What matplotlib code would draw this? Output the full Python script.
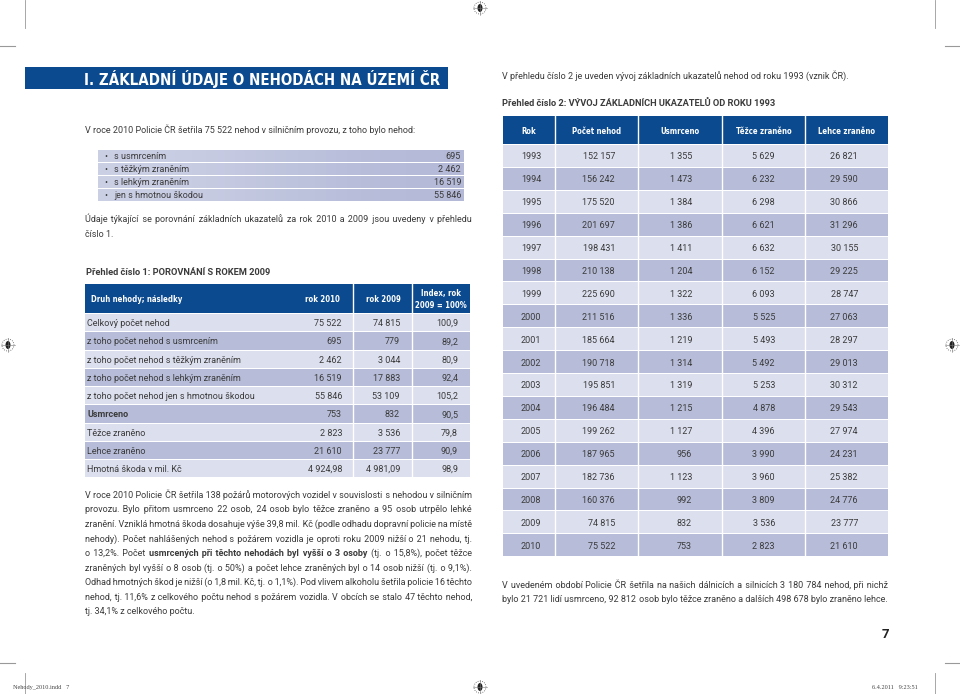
import matplotlib.pyplot as plt
from matplotlib.colors import LinearSegmentedColormap
from matplotlib.patches import Rectangle, Circle, Ellipse

# --- page content ------------------------------------------------------------
title = "I. ZÁKLADNÍ ÚDAJE O NEHODÁCH NA ÚZEMÍ ČR"
intro = "V roce 2010 Policie ČR šetřila 75 522 nehod v silničním provozu, z toho bylo nehod:"

bullet_labels = ["s usmrcením", "s těžkým zraněním", "s lehkým zraněním", "jen s hmotnou škodou"]
bullet_values = [695, 2462, 16519, 55846]

note1 = ["Údaje týkající se porovnání základních ukazatelů za rok 2010 a 2009 jsou uvedeny v přehledu",
         "číslo 1."]

t1_title = "Přehled číslo 1: POROVNÁNÍ S ROKEM 2009"
t1_header = ["Druh nehody; následky", "rok 2010", "rok 2009", "Index, rok", "2009 = 100%"]
t1_labels = ["Celkový počet nehod", "z toho počet nehod s usmrcením",
             "z toho počet nehod s těžkým zraněním", "z toho počet nehod s lehkým zraněním",
             "z toho počet nehod jen s hmotnou škodou", "Usmrceno", "Těžce zraněno",
             "Lehce zraněno", "Hmotná škoda v mil. Kč"]
t1_2010 = [75522, 695, 2462, 16519, 55846, 753, 2823, 21610, 4924.98]
t1_2009 = [74815, 779, 3044, 17883, 53109, 832, 3536, 23777, 4981.09]
t1_index = [100.9, 89.2, 80.9, 92.4, 105.2, 90.5, 79.8, 90.9, 98.9]

fire_par = [
    [("V roce 2010 Policie ČR šetřila 138 požárů motorových vozidel v souvislosti s nehodou v silničním", "normal")],
    [("provozu. Bylo přitom usmrceno 22 osob, 24 osob bylo těžce zraněno a 95 osob utrpělo lehké", "normal")],
    [("zranění. Vzniklá hmotná škoda dosahuje výše 39,8 mil. Kč (podle odhadu dopravní policie na místě", "normal")],
    [("nehody). Počet nahlášených nehod s požárem vozidla je oproti roku 2009 nižší o 21 nehodu, tj.", "normal")],
    [("o 13,2%. Počet", "normal"), ("usmrcených při těchto nehodách byl vyšší o 3 osoby", "bold"),
     ("(tj. o 15,8%), počet těžce", "normal")],
    [("zraněných byl vyšší o 8 osob (tj. o 50%) a počet lehce zraněných byl o 14 osob nižší (tj. o 9,1%).", "normal")],
    [("Odhad hmotných škod je nižší (o 1,8 mil. Kč, tj. o 1,1%). Pod vlivem alkoholu šetřila policie 16 těchto", "normal")],
    [("nehod, tj. 11,6% z celkového počtu nehod s požárem vozidla. V obcích se stalo 47 těchto nehod,", "normal")],
    [("tj. 34,1% z celkového počtu.", "normal")],
]

right_intro = "V přehledu číslo 2 je uveden vývoj základních ukazatelů nehod od roku 1993 (vznik ČR)."
t2_title = "Přehled číslo 2: VÝVOJ ZÁKLADNÍCH UKAZATELŮ OD ROKU 1993"
t2_header = ["Rok", "Počet nehod", "Usmrceno", "Těžce zraněno", "Lehce zraněno"]
t2_years = [1993, 1994, 1995, 1996, 1997, 1998, 1999, 2000, 2001,
            2002, 2003, 2004, 2005, 2006, 2007, 2008, 2009, 2010]
t2_nehody = [152157, 156242, 175520, 201697, 198431, 210138, 225690, 211516, 185664,
             190718, 195851, 196484, 199262, 187965, 182736, 160376, 74815, 75522]
t2_usmrceno = [1355, 1473, 1384, 1386, 1411, 1204, 1322, 1336, 1219,
               1314, 1319, 1215, 1127, 956, 1123, 992, 832, 753]
t2_tezce = [5629, 6232, 6298, 6621, 6632, 6152, 6093, 5525, 5493,
            5492, 5253, 4878, 4396, 3990, 3960, 3809, 3536, 2823]
t2_lehce = [26821, 29590, 30866, 31296, 30155, 29225, 28747, 27063, 28297,
            29013, 30312, 29543, 27974, 24231, 25382, 24776, 23777, 21610]

summary = ["V uvedeném období Policie ČR šetřila na našich dálnicích a silnicích 3 180 784 nehod, při nichž",
           "bylo 21 721 lidí usmrceno, 92 812 osob bylo těžce zraněno a dalších 498 678 bylo zraněno lehce."]

page_no = "7"
footer_left = "Nehody_2010.indd   7"
footer_right = "6.4.2011   9:23:51"

# --- style -------------------------------------------------------------------
BODY = ["Roboto", "DejaVu Sans"]
HEAD = ["DejaVu Sans"]
INK = "#3b3b3b"
BLUE = "#0b4a8f"
ROW_LIGHT = "#dcdfee"
ROW_DARK = "#b7bdd9"
HAIR = "\u200a"
THIN = "\u2009"

W, H = 960, 694
fig = plt.figure(figsize=(9.6, 6.94), dpi=100)
ax = fig.add_axes([0, 0, 1, 1])
ax.set_xlim(0, W)
ax.set_ylim(H, 0)
ax.axis("off")
renderer = fig.canvas.get_renderer()


def num(v):
    if isinstance(v, float):
        return f"{v:,.2f}".replace(",", " ").replace(".", ",")
    return f"{v:,}".replace(",", " ")


def put(x, y, s, size, weight="normal", ha="left", color=INK, family=BODY, stretch="normal"):
    return ax.text(x, y, s, fontsize=size, fontweight=weight, ha=ha, va="baseline",
                   color=color, family=family, fontstretch=stretch)


def width(s, size, weight="normal", family=BODY, stretch="normal"):
    t = put(0, 0, s, size, weight, family=family, stretch=stretch)
    w = t.get_window_extent(renderer).width
    t.remove()
    return w


def fit(s, target, weight="normal", family=BODY, stretch="normal"):
    return 10 * target / width(s, 10, weight, family, stretch)


def head(x, y, s, size, ha="center"):
    return put(x, y, s, size, "bold", ha=ha, color="white", family=HEAD, stretch="condensed")


def line(segments, x0, y, size, x1=None, color=INK):
    # one text per segment; word gaps padded with hair spaces to justify
    seg_words = [(txt.split(), wt) for txt, wt in segments]
    sp = width("a a", size) - width("aa", size)
    if x1 is None:
        gaps_per = None
    else:
        thin = width("a" + THIN + "a", size) - width("aa", size)
        hair = width("a" + HAIR + "a", size) - width("aa", size)
        natural = sum(width(w, size, wt) for ws, wt in seg_words for w in ws)
        n = sum(len(ws) for ws, _ in seg_words) - 1
        per = (x1 - x0 - natural) / n
        base, base_w = (" ", sp) if per >= sp else ((THIN, thin) if per >= thin else ("", 0))
        extra = per - base_w
        gaps_per = [base + HAIR * (round((k + 1) * extra / hair) - round(k * extra / hair))
                    for k in range(n)]
    k = 0
    x = x0
    for si, (ws, wt) in enumerate(seg_words):
        parts = []
        for wi, w in enumerate(ws):
            parts.append(w)
            if wi < len(ws) - 1:
                parts.append(" " if gaps_per is None else gaps_per[k])
                k += 1
        t = put(x, y, "".join(parts), size, wt, color=color)
        x += t.get_window_extent(renderer).width
        if si < len(seg_words) - 1:
            x += sp if gaps_per is None else width("a" + gaps_per[k] + "a", size) - width("aa", size)
            k += 1


fs = fit("tj. 34,1% z celkového počtu.", 111)
fs_head = fit("Druh nehody; následky", 90, "bold", HEAD, "condensed")
fs_sec = fit(t2_title, 275, "bold")

# --- left column ---------------------------------------------------------------
ax.add_patch(Rectangle((25, 67), 423, 22, color=BLUE, lw=0))
head(440, 85, title, fit(title, 353, "bold", HEAD, "condensed"), ha="right")

line([(intro, "normal")], 85, 133, fs)

grad = LinearSegmentedColormap.from_list("g", ["#ccd0e5", "#b3b9d7"])
for i, (lab, val) in enumerate(zip(bullet_labels, bullet_values)):
    yc = 156 + i * 13
    ax.imshow([[0, 1], [0, 1]], cmap=grad, extent=[98, 464, yc - 6, yc + 6],
              aspect="auto", interpolation="bicubic", zorder=1)
    put(106, yc + 3, "•", fs, ha="center")
    put(114, yc + 3, lab, fs)
    put(461, yc + 3, num(val), fs, ha="right")
ax.set_xlim(0, W)
ax.set_ylim(H, 0)

line([(note1[0], "normal")], 85, 222, fs, 472)
line([(note1[1], "normal")], 85, 237, fs)

put(86, 275, t1_title, fs_sec, "bold")

# table 1
T1_X0, T1_X1 = 85, 470
ax.add_patch(Rectangle((T1_X0, 284), T1_X1 - T1_X0, 29, color=BLUE, lw=0))
head(91, 302, t1_header[0], fs_head, ha="left")
head(322, 302, t1_header[1], fs_head)
head(383, 302, t1_header[2], fs_head)
head(441, 296, t1_header[3], fs_head)
head(441, 308, t1_header[4], fs_head)
row_h = 18.25
for i, lab in enumerate(t1_labels):
    top = 314 + i * row_h
    ax.add_patch(Rectangle((T1_X0, top), T1_X1 - T1_X0, row_h - 1,
                           color=ROW_LIGHT if i % 2 == 0 else ROW_DARK, lw=0))
    yb = top + row_h / 2 + 3
    put(87, yb, lab, fs, "bold" if lab == "Usmrceno" else "normal")
    put(342, yb, num(t1_2010[i]), fs, ha="right")
    put(400, yb, num(t1_2009[i]), fs, ha="right")
    put(458, yb, f"{t1_index[i]:.1f}".replace(".", ","), fs, ha="right")
for xs in (353, 412):
    ax.plot([xs, xs], [284, 314 + 9 * row_h], color="white", lw=1)

for i, segs in enumerate(fire_par):
    last = i == len(fire_par) - 1
    line(segs, 85, 498 + i * 14.5, fs, None if last else 472)

# --- right column --------------------------------------------------------------
line([(right_intro, "normal")], 502, 79, fs)
put(502, 106, t2_title, fs_sec, "bold")

T2_X = [503, 555, 638, 722, 805, 888]
ax.add_patch(Rectangle((503, 116), 385, 28, color=BLUE, lw=0))
for j, h in enumerate(t2_header):
    head((T2_X[j] + T2_X[j + 1]) / 2, 134, h, fs_head)
r2 = 22.9
right_edges = [615, 692, 775, 858]
for i, yr in enumerate(t2_years):
    top = 145 + i * r2
    ax.add_patch(Rectangle((503, top), 385, r2 - 1,
                           color=ROW_LIGHT if i % 2 == 0 else ROW_DARK, lw=0))
    yb = top + r2 / 2 + 3
    put(531, yb, str(yr), fs, ha="center")
    for xr, col in zip(right_edges, (t2_nehody, t2_usmrceno, t2_tezce, t2_lehce)):
        put(xr, yb, num(col[i]), fs, ha="right")
for xs in T2_X[1:-1]:
    ax.plot([xs, xs], [116, 145 + 18 * r2], color="white", lw=1)

line([(summary[0], "normal")], 502, 588, fs, 888)
line([(summary[1], "normal")], 502, 602, fs, 888)

put(885, 638, page_no, fs * 1.45, "bold", ha="center", color="#222222")

# --- print marks -------------------------------------------------------------
put(13, 689, footer_left, 4.5, color="#444444", family=["Liberation Serif", "DejaVu Serif"])
put(918, 689, footer_right, 4.5, ha="right", color="#444444", family=["Liberation Serif", "DejaVu Serif"])
for xs in (25, 935):
    ax.plot([xs, xs], [0, 28], color="#999999", lw=0.6)
    ax.plot([xs, xs], [673, 694], color="#999999", lw=0.6)
for xa, xb in ((0, 15), (945, 960)):
    ax.plot([xa, xb], [46, 46], color="#999999", lw=0.8)
    ax.plot([xa, xb], [663, 663], color="#999999", lw=0.8)
for cx, cy in ((480, 8), (480, 687), (8, 345), (952, 345)):
    ax.add_patch(Circle((cx, cy), 6, fill=False, ec="#555555", lw=0.6, ls=":"))
    ax.add_patch(Ellipse((cx, cy), 5, 8, fc="#222222", ec="none"))
    ax.plot([cx - 7, cx + 7], [cy, cy], color="#777777", lw=0.4)
    ax.plot([cx, cx], [cy - 7, cy + 7], color="#777777", lw=0.4)

fig.savefig("out.png", dpi=100)
